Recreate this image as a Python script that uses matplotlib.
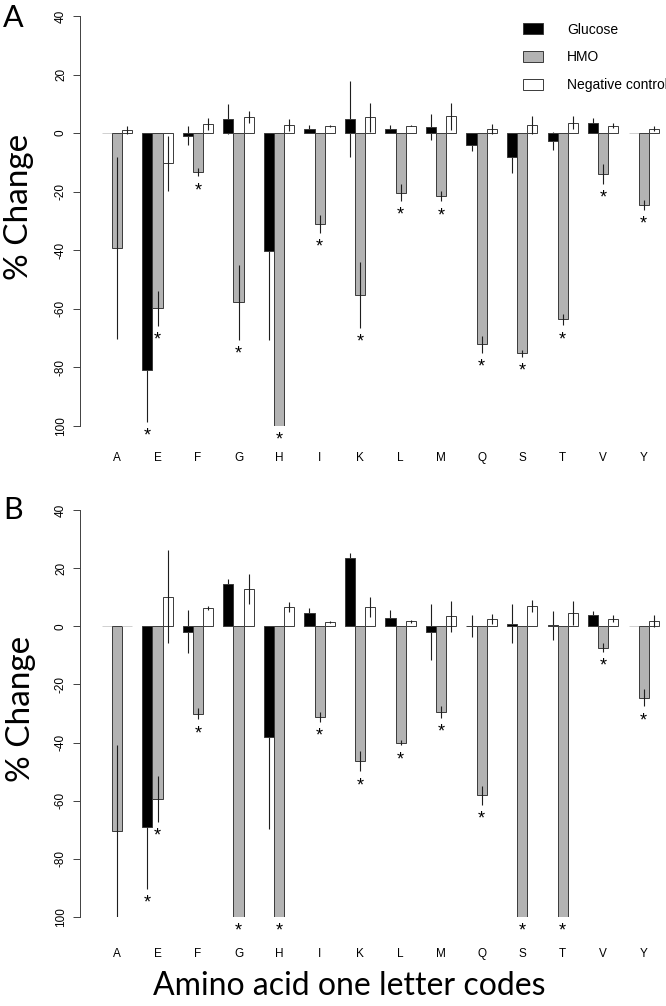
import numpy as np
import matplotlib
matplotlib.use('Agg')
import matplotlib.pyplot as plt
from matplotlib.patches import Patch

amino = ['A', 'E', 'F', 'G', 'H', 'I', 'K', 'L', 'M', 'Q', 'S', 'T', 'V', 'Y']
series = ['Glucose', 'HMO', 'Negative control']

# panel A
glc_a = [0, -80.9, -0.9, 4.8, -40.1, 1.4, 4.8, 1.5, 2.2, -4.2, -8.2, -2.6, 3.6, 0]
glc_a_err = [0, 17.6, 3.3, 5.0, 30.5, 1.5, 13.0, 1.2, 4.4, 2.0, 5.5, 3.0, 1.6, 0]
hmo_a = [-39.3, -59.8, -13.3, -57.7, -100, -31.0, -55.2, -20.3, -21.6, -72.1, -75.2, -63.6, -13.9, -24.5]
hmo_a_err = [31.0, 6.0, 1.5, 12.8, 0, 3.1, 11.3, 2.9, 1.7, 3.0, 1.1, 2.0, 3.5, 1.7]
neg_a = [1.1, -10.3, 3.1, 5.4, 2.8, 2.5, 5.4, 2.6, 5.7, 1.4, 2.7, 3.6, 2.6, 1.5]
neg_a_err = [1.5, 9.3, 2.0, 2.0, 2.0, 0.4, 5.0, 0.3, 4.5, 1.7, 3.0, 2.2, 0.8, 0.8]
sig_glc_a = [0, 1, 0, 0, 0, 0, 0, 0, 0, 0, 0, 0, 0, 0]
sig_hmo_a = [0, 1, 1, 1, 1, 1, 1, 1, 1, 1, 1, 1, 1, 1]

# panel B
glc_b = [0, -69.0, -1.9, 14.7, -38.1, 4.6, 23.5, 3.0, -1.9, 0.2, 0.9, 0.4, 3.8, 0]
glc_b_err = [0, 21.2, 7.4, 1.6, 31.5, 1.7, 1.7, 2.5, 9.7, 3.8, 6.8, 5.0, 1.4, 0]
hmo_b = [-70.5, -59.3, -30.0, -100, -100, -31.2, -46.4, -40.0, -29.5, -58.1, -100, -100, -7.3, -24.5]
hmo_b_err = [29.5, 7.9, 2.0, 0, 0, 1.7, 3.5, 1.0, 2.1, 3.3, 0, 0, 1.4, 3.0]
neg_b = [0, 10.1, 6.3, 12.8, 6.7, 1.5, 6.7, 1.7, 3.4, 2.6, 7.1, 4.6, 2.6, 1.8]
neg_b_err = [0, 16.0, 0.7, 5.3, 1.7, 0.3, 3.4, 0.4, 5.2, 1.7, 2.1, 4.0, 1.2, 2.2]
sig_glc_b = [0, 1, 0, 0, 0, 0, 0, 0, 0, 0, 0, 0, 0, 0]
sig_hmo_b = [0, 1, 1, 1, 1, 1, 1, 1, 1, 1, 1, 1, 1, 1]

yticks = [-100, -80, -60, -40, -20, 0, 20, 40]
ytick_labels = ['100', '-80', '-60', '-40', '-20', '0', '20', '40']

colors = ['black', '#b3b3b3', 'white']
edge = '#3a3a3a'
tick_font = 'Liberation Sans'
big_font = 'Lato'

W, H = 666, 1006
fig = plt.figure(figsize=(W / 100, H / 100), dpi=100)


def px_axes(left, top, right, bottom):
    return fig.add_axes([left / W, 1 - bottom / H, (right - left) / W, (bottom - top) / H])


def panel(ax, vals, errs, sigs, xpad):
    g = np.arange(len(amino))
    for k in range(3):
        x = 1.5 + k + 4 * g
        # zero-height bars only leave a faint trace in the original
        ec = ['#d0d0d0' if v == 0 else edge for v in vals[k]]
        ax.bar(x, vals[k], width=1.0, color=colors[k], edgecolor=ec, linewidth=0.7, zorder=2)
        # glucose whiskers sit behind the black bars
        ax.errorbar(x, vals[k], yerr=errs[k], fmt='none', ecolor='#1e1e1e',
                    elinewidth=0.8, capsize=0, zorder=1 if k == 0 else 3)
    for k, s in [(0, sigs[0]), (1, sigs[1])]:
        x = 1.5 + k + 4 * g
        for i in range(len(amino)):
            if s[i]:
                low = max(vals[k][i] - errs[k][i], -100)
                ax.text(x[i], low - 2.0, '*', ha='center', va='top', fontsize=13,
                        family=tick_font, clip_on=False)
    ax.set_xlim(-1.2, -1.2 + (W - 79.5) / 10.13)
    ax.set_ylim(-100, 40)
    ax.set_xticks(2.5 + 4 * g)
    ax.set_xticklabels(amino, family=tick_font, fontsize=8.5)
    ax.tick_params(axis='x', length=0, pad=xpad)
    ax.set_yticks(yticks)
    ax.set_yticklabels(ytick_labels, rotation=90, va='center', family=tick_font, fontsize=8.5)
    ax.tick_params(axis='y', length=5, width=0.7, color='#404040', pad=4)
    for sp in ['top', 'right', 'bottom']:
        ax.spines[sp].set_visible(False)
    ax.spines['left'].set_bounds(-100, 40)
    ax.spines['left'].set_linewidth(0.7)
    ax.spines['left'].set_color('#404040')


ax_a = px_axes(79.5, 16, W, 426)
panel(ax_a, [glc_a, hmo_a, neg_a], [glc_a_err, hmo_a_err, neg_a_err], [sig_glc_a, sig_hmo_a], 19)

ax_b = px_axes(79.5, 510, W, 917)
panel(ax_b, [glc_b, hmo_b, neg_b], [glc_b_err, hmo_b_err, neg_b_err], [sig_glc_b, sig_hmo_b], 22)

handles = [Patch(facecolor=c, edgecolor=edge, linewidth=0.7) for c in colors]
ax_a.legend(handles, series, loc='upper left', bbox_to_anchor=(523 / W, 1 - 22.5 / H),
            bbox_transform=fig.transFigure, frameon=False, borderpad=0, borderaxespad=0,
            handlelength=1.45, handleheight=0.9, labelspacing=1.0, handletextpad=1.7,
            prop={'family': tick_font, 'size': 10})

fig.text(3 / W, 1 - 4 / H, 'A', ha='left', va='top', fontsize=22, family=big_font)
fig.text(3 / W, 1 - 496 / H, 'B', ha='left', va='top', fontsize=22, family=big_font)
fig.text(19 / W, 1 - 207 / H, '% Change', rotation=90, ha='center', va='center',
         fontsize=24, family=big_font)
fig.text(21 / W, 1 - 709 / H, '% Change', rotation=90, ha='center', va='center',
         fontsize=24, family=big_font)
fig.text(349 / W, 1 - 995 / H, 'Amino acid one letter codes', ha='center', va='baseline',
         fontsize=23, family=big_font)

fig.savefig('out.png', dpi=100)
